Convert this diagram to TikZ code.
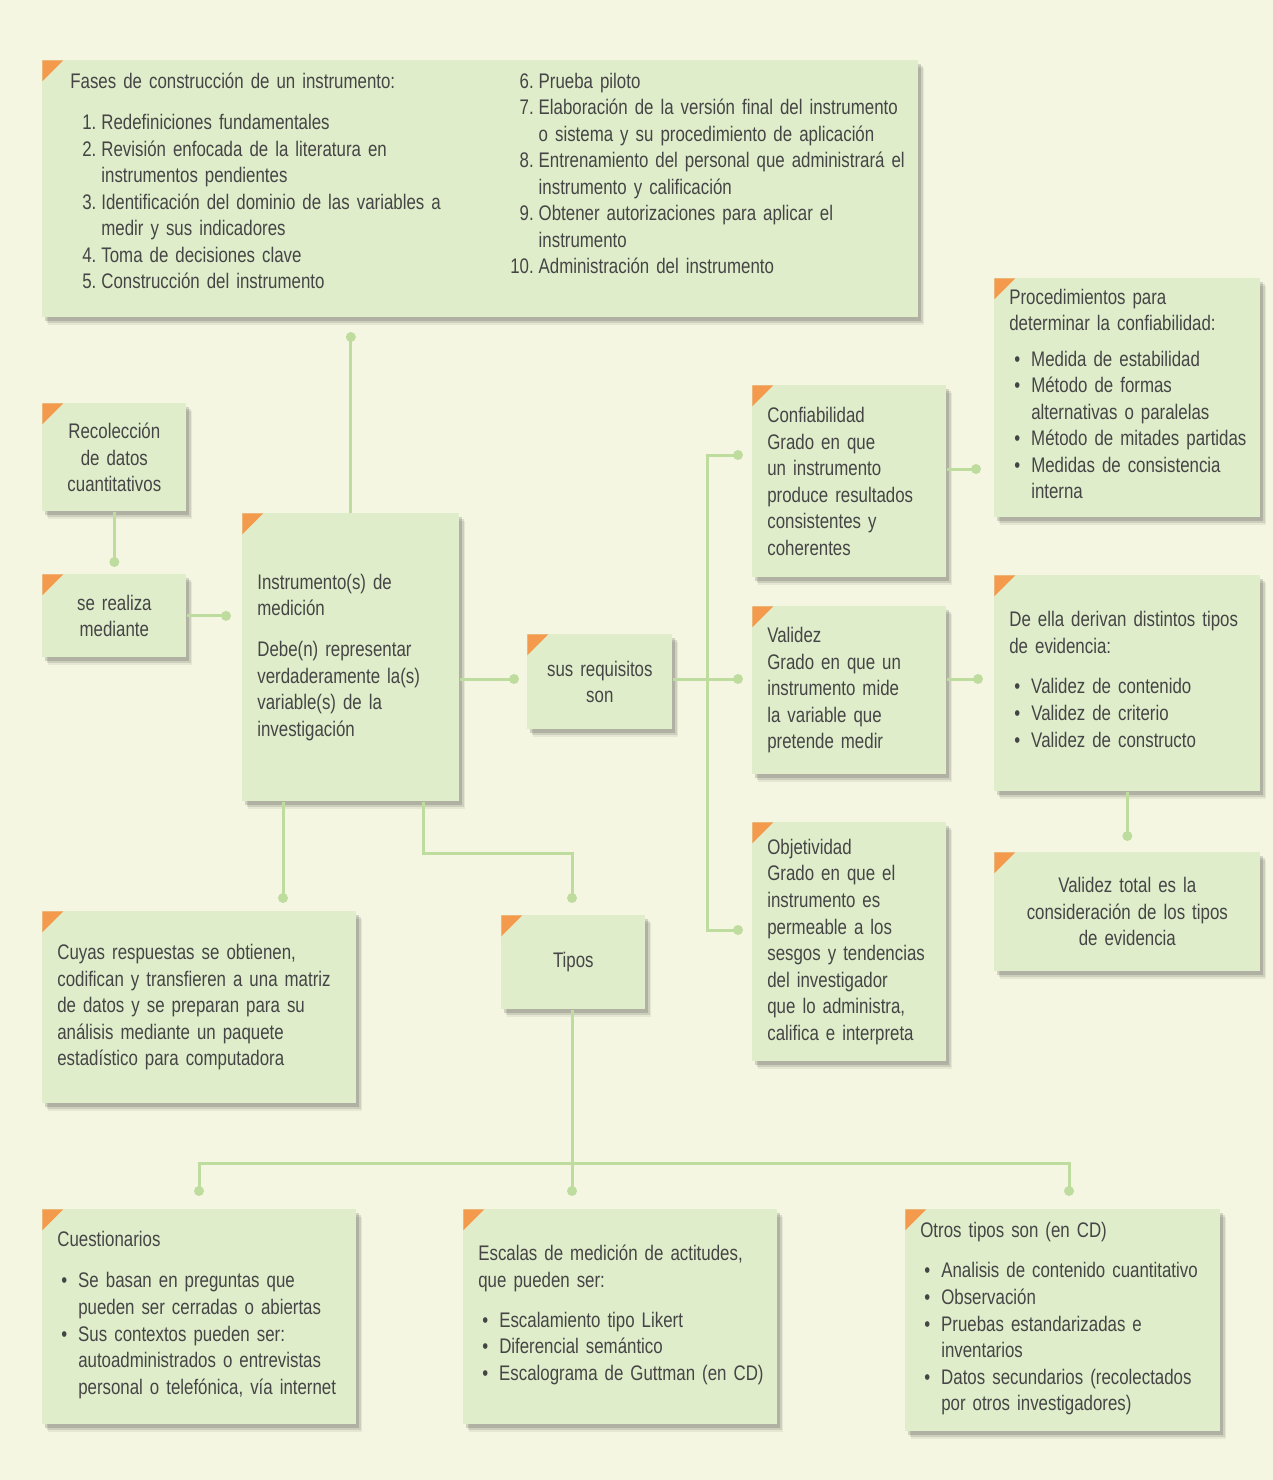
\documentclass[tikz,border=0pt]{standalone}
\usepackage{fontspec}
\setmainfont[FakeStretch=0.8, WordSpace=0.7]{Liberation Sans}
\usetikzlibrary{shadows}
\definecolor{fondo}{HTML}{F4F6E1}
\definecolor{verdecaja}{HTML}{DFEDCB}
\definecolor{verdelinea}{HTML}{BEDC9E}
\definecolor{naranja}{HTML}{F39A4C}
\definecolor{gristexto}{HTML}{454545}

\begin{document}
\begin{tikzpicture}[x=0.02cm, y=-0.02cm,
  caja/.style={fill=verdecaja, anchor=north west, inner xsep=0.3cm, inner ysep=0pt,
    align=left, text=gristexto, font=\fontsize{12}{15.1}\selectfont,
    drop shadow={shadow xshift=0.12cm, shadow yshift=-0.16cm, fill=black, opacity=0.06},
    drop shadow={shadow xshift=0.09cm, shadow yshift=-0.12cm, fill=black, opacity=0.1},
    drop shadow={shadow xshift=0.06cm, shadow yshift=-0.08cm, fill=black, opacity=0.14},
    path picture={\fill[naranja] (path picture bounding box.north west) -- ++(0.42cm,0)
      -- ++(-0.42cm,-0.42cm) -- cycle;}},
  linea/.style={draw=verdelinea, line width=0.06cm}]
  \useasboundingbox (0,0) rectangle (1273,1480);
  \fill[fondo] (0,0) rectangle (1273,1480);

  % cajas
  \node[caja, inner xsep=0.56cm, text width=16.4cm, minimum height=5.14cm] (fases) at (42,60) {%
    \begin{minipage}[t]{8.8cm}
    \begin{tabular}[t]{@{\hspace{0.24cm}}r@{\hspace{0.1cm}}l@{}}
      \multicolumn{2}{@{}l@{}}{Fases de construcción de un instrumento:}\\[0.3cm]
      1. & Redefiniciones fundamentales\\
      2. & Revisión enfocada de la literatura en\\
         & instrumentos pendientes\\
      3. & Identificación del dominio de las variables a\\
         & medir y sus indicadores\\
      4. & Toma de decisiones clave\\
      5. & Construcción del instrumento
    \end{tabular}\par\vspace{0.22cm}\hrule height 0pt width 0pt
    \end{minipage}%
    \begin{minipage}[t]{7.6cm}
    \begin{tabular}[t]{@{}r@{\hspace{0.1cm}}l@{}}
      6. & Prueba piloto\\
      7. & Elaboración de la versión final del instrumento\\
         & o sistema y su procedimiento de aplicación\\
      8. & Entrenamiento del personal que administrará el\\
         & instrumento y calificación\\
      9. & Obtener autorizaciones para aplicar el\\
         & instrumento\\
      10. & Administración del instrumento
    \end{tabular}
    \end{minipage}};
  \node[caja, align=center, text width=2.28cm, minimum height=2.16cm] (recol) at (42,403)
    {Recolección\\de datos\\cuantitativos};
  \node[caja, align=center, text width=2.28cm, minimum height=1.66cm] (serea) at (42,574)
    {se realiza\\mediante};
  \node[caja, text width=3.74cm, minimum height=5.76cm] (instr) at (242,513)
    {Instrumento(s) de\\medición\\[0.29cm]Debe(n) representar\\verdaderamente la(s)\\variable(s) de la\\investigación};
  \node[caja, align=center, text width=2.3cm, minimum height=1.9cm] (requi) at (527,634)
    {sus requisitos\\son};
  \node[caja, text width=3.28cm, minimum height=3.84cm] (confi) at (752,385)
    {Confiabilidad\\Grado en que\\un instrumento\\produce resultados\\consistentes y\\coherentes};
  \node[caja, text width=4.72cm, minimum height=4.78cm] (proce) at (994,278)
    {Procedimientos para\\determinar la confiabilidad:\\[0.18cm]%
    \begin{tabular}[t]{@{\hspace{0.1cm}}c@{\hspace{0.22cm}}l@{}}
      \textbullet & Medida de estabilidad\\
      \textbullet & Método de formas\\
                  & alternativas o paralelas\\
      \textbullet & Método de mitades partidas\\
      \textbullet & Medidas de consistencia\\
                  & interna
    \end{tabular}};
  \node[caja, text width=3.28cm, minimum height=3.36cm] (valid) at (752,606)
    {Validez\\Grado en que un\\instrumento mide\\la variable que\\pretende medir};
  \node[caja, text width=4.72cm, minimum height=4.32cm] (deella) at (994,575)
    {De ella derivan distintos tipos\\de evidencia:\\[0.28cm]%
    \begin{tabular}[t]{@{\hspace{0.1cm}}c@{\hspace{0.22cm}}l@{}}
      \textbullet & Validez de contenido\\
      \textbullet & Validez de criterio\\
      \textbullet & Validez de constructo
    \end{tabular}};
  \node[caja, align=center, text width=4.72cm, minimum height=2.38cm] (total) at (994,852)
    {Validez total es la\\consideración de los tipos\\de evidencia};
  \node[caja, text width=3.28cm, minimum height=4.78cm] (objet) at (752,822)
    {Objetividad\\Grado en que el\\instrumento es\\permeable a los\\sesgos y tendencias\\del investigador\\que lo administra,\\califica e interpreta};
  \node[caja, text width=5.68cm, minimum height=3.84cm] (cuyas) at (42,911)
    {Cuyas respuestas se obtienen,\\codifican y transfieren a una matriz\\de datos y se preparan para su\\análisis mediante un paquete\\estadístico para computadora};
  \node[caja, align=center, text width=2.28cm, minimum height=1.88cm] (tipos) at (501,915)
    {Tipos};
  \node[caja, text width=5.68cm, minimum height=4.3cm] (cuest) at (42,1209)
    {Cuestionarios\\[0.29cm]%
    \begin{tabular}[t]{@{\hspace{0.08cm}}c@{\hspace{0.22cm}}l@{}}
      \textbullet & Se basan en preguntas que\\
                  & pueden ser cerradas o abiertas\\
      \textbullet & Sus contextos pueden ser:\\
                  & autoadministrados o entrevistas\\
                  & personal o telefónica, vía internet
    \end{tabular}};
  \node[caja, text width=5.68cm, minimum height=4.3cm] (escal) at (463,1209)
    {Escalas de medición de actitudes,\\que pueden ser:\\[0.27cm]%
    \begin{tabular}[t]{@{\hspace{0.08cm}}c@{\hspace{0.22cm}}l@{}}
      \textbullet & Escalamiento tipo Likert\\
      \textbullet & Diferencial semántico\\
      \textbullet & Escalograma de Guttman (en CD)
    \end{tabular}};
  \node[caja, text width=5.7cm, minimum height=4.44cm] (otros) at (905,1209)
    {Otros tipos son (en CD)\\[0.28cm]%
    \begin{tabular}[t]{@{\hspace{0.08cm}}c@{\hspace{0.22cm}}l@{}}
      \textbullet & Analisis de contenido cuantitativo\\
      \textbullet & Observación\\
      \textbullet & Pruebas estandarizadas e\\
                  & inventarios\\
      \textbullet & Datos secundarios (recolectados\\
                  & por otros investigadores)
    \end{tabular}};

  % puntos de llegada
  \coordinate (d1) at (350,337);
  \coordinate (d2) at (114,562);
  \coordinate (d3) at (226,616);
  \coordinate (d4) at (514,679);
  \coordinate (c1) at (738,455);
  \coordinate (c2) at (738,930);
  \coordinate (c3) at (738,679);
  \coordinate (b1) at (707,455);
  \coordinate (b2) at (707,930);
  \coordinate (d8) at (976,469);
  \coordinate (d9) at (978,679);
  \coordinate (d10) at (1127,836);
  \coordinate (d11) at (283,898);
  \coordinate (k1) at (423,853);
  \coordinate (d12) at (572,898);
  \coordinate (q1) at (199,1191);
  \coordinate (q2) at (572,1191);
  \coordinate (q3) at (1069,1191);
  \coordinate (b3) at (199,1163);
  \coordinate (b4) at (1069,1163);

  % conectores
  \draw[linea] (instr.north) -- (instr.north |- d1);
  \draw[linea] (recol.south) -- (recol.south |- d2);
  \draw[linea] (serea.east) -- (d3 |- serea.east);
  \draw[linea] (instr.east |- d4) -- (d4);
  \draw[linea] (requi.east |- c3) -- (c3);
  \draw[linea] (c1) -- (b1) -- (b2) -- (c2);
  \draw[linea] (confi.east |- d8) -- (d8);
  \draw[linea] (valid.east |- d9) -- (d9);
  \draw[linea] (deella.south) -- (deella.south |- d10);
  \draw[linea] (instr.south -| d11) -- (d11);
  \draw[linea] (instr.south -| k1) -- (k1) -| (d12);
  \draw[linea] (tipos.south -| q2) -- (q2);
  \draw[linea] (q1) -- (b3) -- (b4) -- (q3);

  \fill[verdelinea] (instr.north |- d1) circle (0.1cm);
  \fill[verdelinea] (recol.south |- d2) circle (0.1cm);
  \fill[verdelinea] (d3 |- serea.east) circle (0.1cm);
  \fill[verdelinea] (d4) circle (0.1cm);
  \fill[verdelinea] (c1) circle (0.1cm);
  \fill[verdelinea] (c2) circle (0.1cm);
  \fill[verdelinea] (c3) circle (0.1cm);
  \fill[verdelinea] (d8) circle (0.1cm);
  \fill[verdelinea] (d9) circle (0.1cm);
  \fill[verdelinea] (deella.south |- d10) circle (0.1cm);
  \fill[verdelinea] (d11) circle (0.1cm);
  \fill[verdelinea] (d12) circle (0.1cm);
  \fill[verdelinea] (q1) circle (0.1cm);
  \fill[verdelinea] (q2) circle (0.1cm);
  \fill[verdelinea] (q3) circle (0.1cm);
\end{tikzpicture}
\end{document}
